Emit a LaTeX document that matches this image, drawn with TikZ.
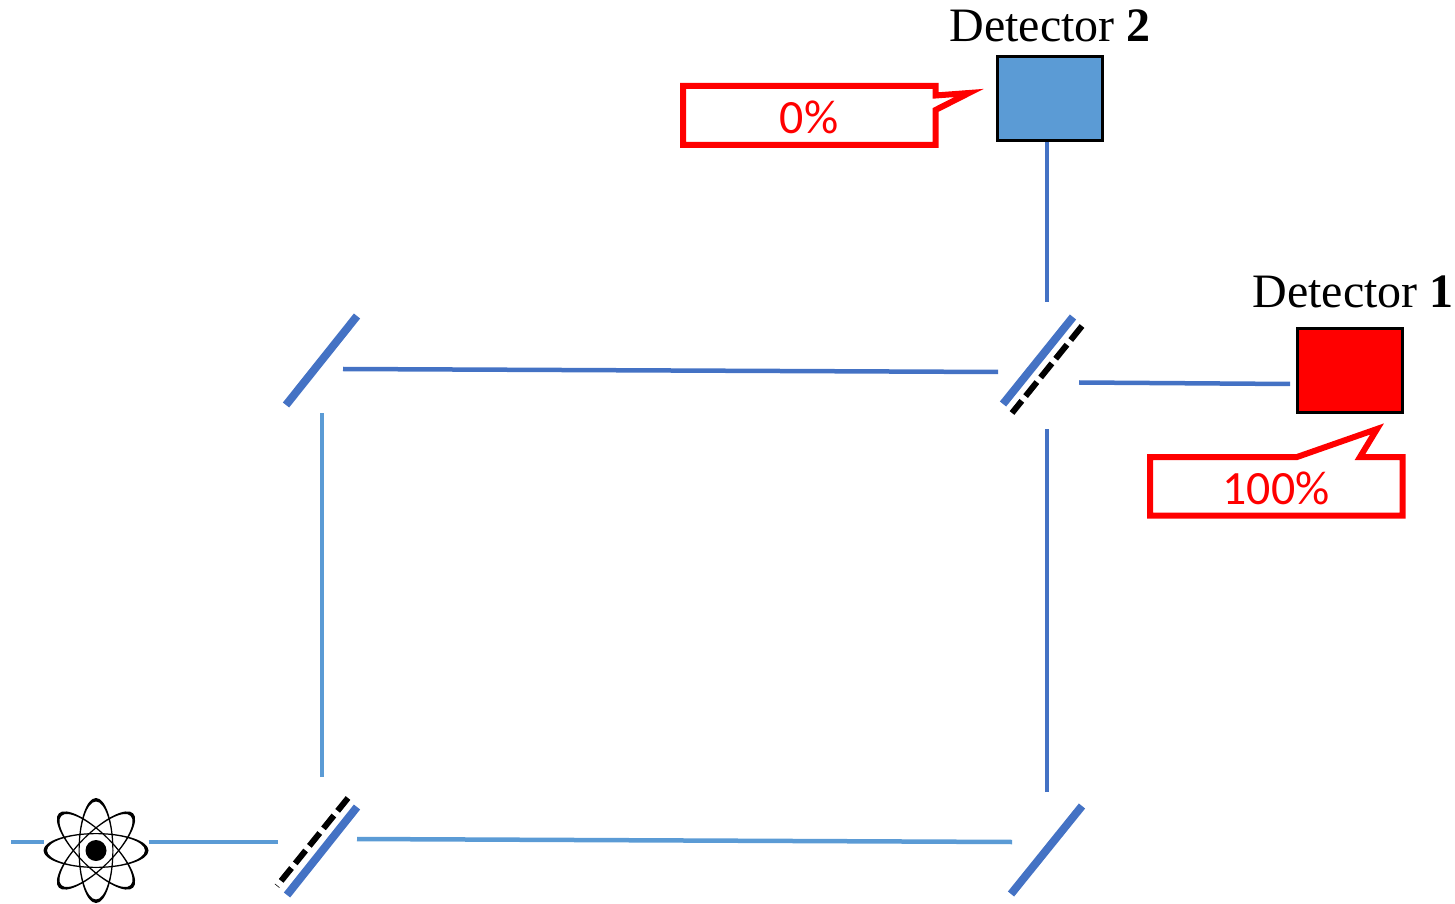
\documentclass[tikz,border=0pt]{standalone}
\usepackage{fontspec}
\setmainfont{Liberation Serif}
\newfontfamily\calloutfont{Carlito}
\definecolor{beamlight}{HTML}{5B9BD5}
\definecolor{beamdark}{HTML}{4472C4}
\tikzset{
  beamone/.style={draw=beamlight,line width=0.045cm},
  beamtwo/.style={draw=beamdark,line width=0.045cm},
  mirror/.style={draw=beamdark,line width=0.08cm},
  halfmirror/.style={draw=black,line width=0.06cm},
  detbox/.style={rectangle,draw=black,line width=0.03cm,minimum width=1.05cm,minimum height=0.835cm,inner sep=0pt},
  detlabel/.style={font=\fontsize{13.65pt}{15pt}\selectfont,inner sep=0pt},
  callout/.style={draw=red,line width=0.06cm,miter limit=10},
  calloutlabel/.style={font=\calloutfont\fontsize{13.6pt}{15pt}\selectfont,text=red,inner sep=0pt},
  orbit/.style={fill=black,even odd rule}
}
\begin{document}
\begin{tikzpicture}
\useasboundingbox (0,0) rectangle (14.55,-9.04);

\foreach \ang in {0,45,90,135}{
\fill[orbit,rotate around={\ang:(0.96,-8.505)}] (0.96,-8.505) ellipse (0.525cm and 0.175cm) (0.96,-8.505) ellipse (0.49cm and 0.163cm);
}
\draw (0.96,-8.505)node[circle,fill=black,minimum size=0.21cm,inner sep=0pt](nucleus){};
\draw (0.96,-8.42)node[circle,minimum size=1.05cm,inner sep=0pt,outer sep=0pt](atom){};

\draw (10.5,-0.985)node[detbox,fill=beamlight](dettwo){};
\draw (13.495,-3.705)node[detbox,fill=red](detone){};
\draw (10.5,-0.26)node[detlabel](labeltwo){Detector \textbf{2}};
\draw (13.53,-2.915)node[detlabel](labelone){Detector \textbf{1}};

\draw[mirror] (3.57,-3.16)--(2.86,-4.05);
\draw[mirror] (10.73,-3.17)--(10.03,-4.04);
\draw[mirror] (3.57,-8.07)--(2.87,-8.95);
\draw[mirror] (10.82,-8.06)--(10.11,-8.94);
\draw[halfmirror,dash pattern=on 0.18cm off 0.06cm] (10.82,-3.26)--(10.12,-4.13);
\draw[halfmirror,dash pattern=on 0.165cm off 0.06cm] (3.48,-7.98)--(2.77,-8.86);

\coordinate (srcfree) at (0.11,-8.42);
\coordinate (srcout) at (2.78,-8.42);
\coordinate (lowstart) at (3.57,-8.39);
\coordinate (lowend) at (10.12,-8.42);
\coordinate (leftstart) at (3.22,-7.77);
\coordinate (leftend) at (3.22,-4.13);
\coordinate (topstart) at (3.43,-3.69);
\coordinate (topend) at (9.98,-3.72);
\coordinate (rightstart) at (10.47,-7.92);
\coordinate (rightend) at (10.47,-4.29);
\coordinate (upstart) at (10.47,-3.02);
\coordinate (sidestart) at (10.79,-3.825);
\coordinate (sideend) at (12.9,-3.84);

\draw[beamone] (srcfree)--(atom.west);
\draw[beamone] (atom.east)--(srcout);
\draw[beamone] (lowstart)--(lowend);
\draw[beamone] (leftstart)--(leftend);
\draw[beamtwo] (topstart)--(topend);
\draw[beamtwo] (rightstart)--(rightend);
\draw[beamtwo] (upstart)--(dettwo.south -| upstart);
\draw[beamtwo] (sidestart)--(sideend);

\draw[callout] (6.83,-0.86)--(9.355,-0.86)--(9.355,-0.955)--(9.69,-0.93)--(9.355,-1.1)--(9.355,-1.45)--(6.83,-1.45)--cycle;
\draw (8.09,-1.17)node[calloutlabel](zeropct){0\%};

\draw[callout] (11.5,-4.57)--(12.97,-4.57)--(13.77,-4.29)--(13.6,-4.57)--(14.025,-4.57)--(14.025,-5.155)--(11.5,-5.155)--cycle;
\draw (12.76,-4.88)node[calloutlabel](fullpct){100\%};
\end{tikzpicture}
\end{document}
